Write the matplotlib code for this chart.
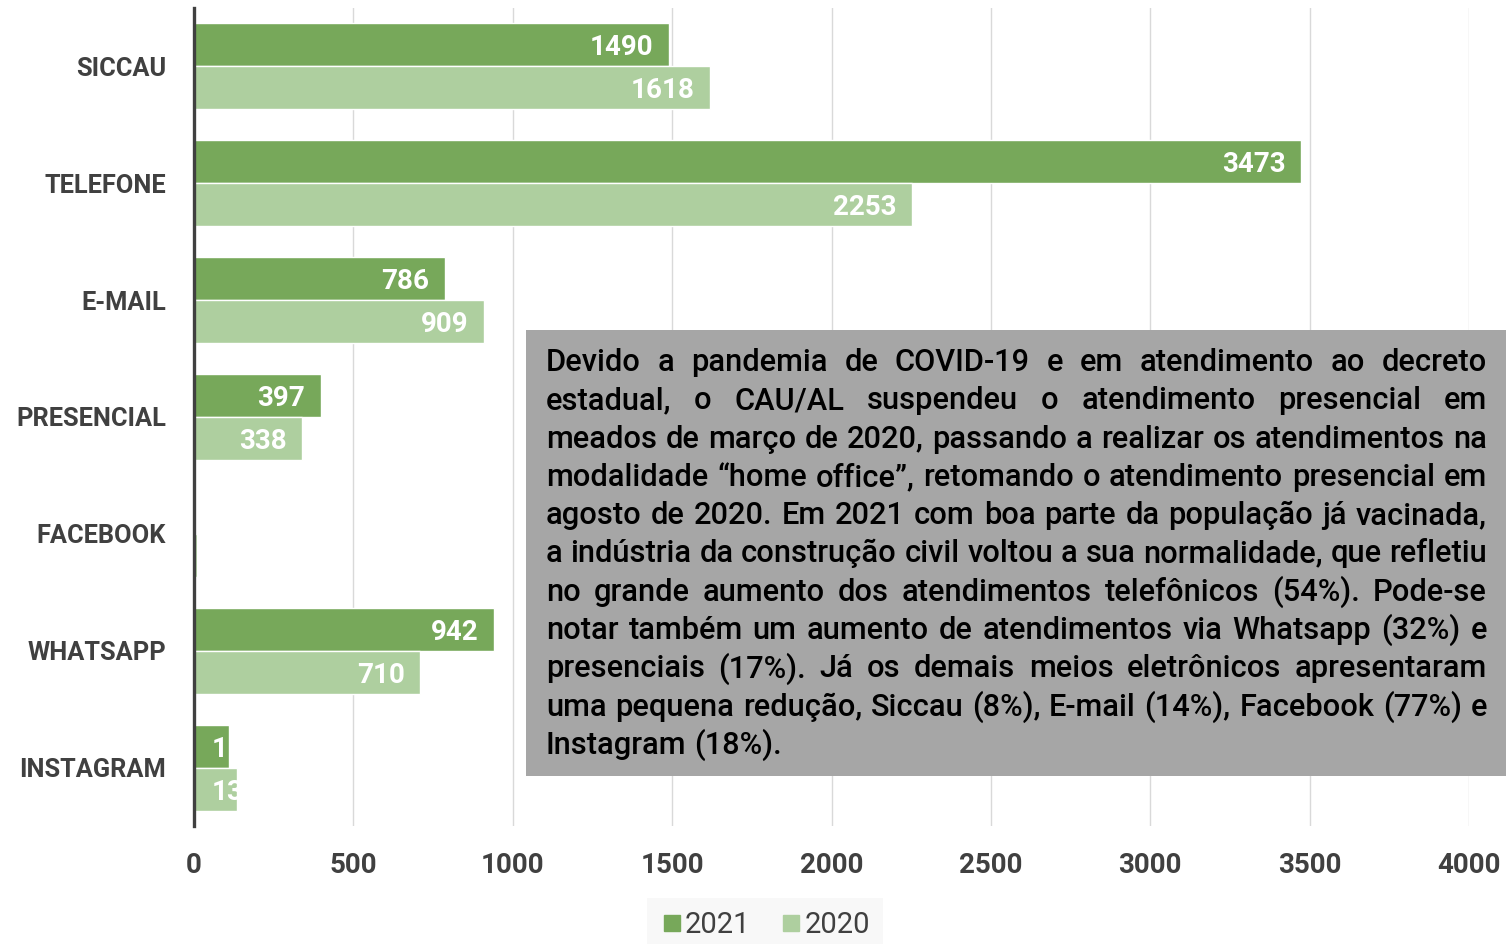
import os
import matplotlib
matplotlib.use('Agg')
import matplotlib.pyplot as plt
from matplotlib import font_manager as fm
from matplotlib.patches import Rectangle
from matplotlib.lines import Line2D

categories = ['SICCAU', 'TELEFONE', 'E-MAIL', 'PRESENCIAL', 'FACEBOOK', 'WHATSAPP', 'INSTAGRAM']
values_2021 = [1490, 3473, 786, 397, 2, 942, 111]
values_2020 = [1618, 2253, 909, 338, 9, 710, 135]
series_names = ['2021', '2020']
xticks = [0, 500, 1000, 1500, 2000, 2500, 3000, 3500, 4000]

note_lines = [
    'Devido a pandemia de COVID-19 e em atendimento ao decreto',
    'estadual, o CAU/AL suspendeu o atendimento presencial em',
    'meados de março de 2020, passando a realizar os atendimentos na',
    'modalidade “home office”, retomando o atendimento presencial em',
    'agosto de 2020. Em 2021 com boa parte da população já vacinada,',
    'a indústria da construção civil voltou a sua normalidade, que refletiu',
    'no grande aumento dos atendimentos telefônicos (54%). Pode-se',
    'notar também um aumento de atendimentos via Whatsapp (32%) e',
    'presenciais (17%). Já os demais meios eletrônicos apresentaram',
    'uma pequena redução, Siccau (8%), E-mail (14%), Facebook (77%) e',
    'Instagram (18%).',
]


def font_file(**kw):
    try:
        return os.path.basename(fm.findfont(fm.FontProperties(**kw), fallback_to_default=False))
    except Exception:
        return ''


if 'Medium' in font_file(family='Roboto', weight='medium'):
    box_font = dict(family='Roboto', fontweight='medium')
    LAB = 'Roboto'
else:
    box_font = dict(family='Liberation Sans', fontweight='bold')
    LAB = 'Liberation Sans'

num_fs = 20

c2021 = '#77A85A'
c2020 = '#AECF9F'
dark = '#404040'

W, H = 1506, 944
fig = plt.figure(figsize=(W / 100, H / 100), dpi=100)
ax = fig.add_axes([194 / W, 1 - 826 / H, (1469 - 194) / W, (826 - 8) / H])
renderer = fig.canvas.get_renderer()

# category label size: widest label should span about 149 px as in the original
probes = [fig.text(0, 0, c, fontsize=10, family=LAB, fontweight='bold') for c in categories]
widest = max(p.get_window_extent(renderer).width for p in probes)
for p in probes:
    p.remove()
ycat_fs = min(22, 10 * 149 / widest)

y = list(range(len(categories)))
bh = 0.368
bars21 = ax.barh([i - bh / 2 for i in y], values_2021, height=bh, color=c2021,
                 edgecolor='white', linewidth=1, zorder=3)
bars20 = ax.barh([i + bh / 2 for i in y], values_2020, height=bh, color=c2020,
                 edgecolor='white', linewidth=1, zorder=3)

ax.set_xlim(0, 4000)
ax.set_ylim(len(categories) - 0.5, -0.5)

# data labels inside end, clipped to the bar
for bars, vals in [(bars21, values_2021), (bars20, values_2020)]:
    for b, v in zip(bars, vals):
        if v < 20:
            continue
        t = ax.annotate(str(v), (v, b.get_y() + b.get_height() / 2),
                        xytext=(-11, 0), textcoords='offset points',
                        ha='right', va='center_baseline', color='white',
                        fontsize=num_fs, fontweight='bold', family=LAB, zorder=4)
        tw = t.get_window_extent(renderer).width
        bw = b.get_window_extent(renderer).width
        if tw + 30 > bw:
            t.xy = (0, t.xy[1])
            t.set_position((13, 0))
            t.set_ha('left')
        t.set_clip_path(b)

ax.set_xticks(xticks)
ax.set_yticks(y)
ax.set_yticklabels(categories)
ax.tick_params(axis='both', length=0, labelcolor=dark)
ax.tick_params(axis='x', pad=19)
ax.tick_params(axis='y', pad=20)
for lab in ax.get_yticklabels():
    lab.set_fontsize(ycat_fs)
    lab.set_family(LAB)
    lab.set_fontweight('bold')
for lab in ax.get_xticklabels():
    lab.set_fontsize(num_fs)
    lab.set_family(LAB)
    lab.set_fontweight('bold')
ax.grid(axis='x', color='#D9D9D9', linewidth=1, zorder=0)
ax.set_axisbelow(True)
for s in ['top', 'right', 'bottom']:
    ax.spines[s].set_visible(False)
ax.spines['left'].set_color(dark)
ax.spines['left'].set_linewidth(2.4)
ax.spines['left'].set_zorder(5)

handles = [Line2D([], [], marker='s', linestyle='', color=c, markersize=11) for c in (c2021, c2020)]
leg = fig.legend(handles, series_names, loc='center', bbox_to_anchor=(765 / W, 1 - 925 / H),
                 ncol=2, frameon=True, prop=fm.FontProperties(family=LAB, size=num_fs + 1),
                 handletextpad=0.05, columnspacing=1.0, borderpad=0.45, handlelength=0.8,
                 borderaxespad=0)
leg.get_frame().set_facecolor('#F7F7F7')
leg.get_frame().set_edgecolor('none')
leg.get_frame().set_boxstyle('square', pad=0)
for t in leg.get_texts():
    t.set_color(dark)

# annotation box
fig.add_artist(Rectangle((526 / W, 1 - 776 / H), (W - 526) / W, (776 - 330) / H,
                         transform=fig.transFigure, facecolor='#A6A6A6',
                         edgecolor='none', zorder=10))

# justified paragraph, font size chosen so the longest line fits with normal spacing
x0, x1 = 546, 1487
base0, step = 371, 38.3
probes = [fig.text(0, 0, ln, fontsize=10, **box_font) for ln in note_lines]
longest = max(p.get_window_extent(renderer).width for p in probes)
for p in probes:
    p.remove()
box_fs = 10 * (x1 - x0) / longest * 0.995

probe = fig.text(0, 0, 'a a', fontsize=box_fs, **box_font)
probe2 = fig.text(0, 0, 'aa', fontsize=box_fs, **box_font)
space = probe.get_window_extent(renderer).width - probe2.get_window_extent(renderer).width
probe.remove()
probe2.remove()
for k, line in enumerate(note_lines):
    yb = 1 - (base0 + k * step) / H
    words = line.split(' ')
    texts = [fig.text(0, yb, w, fontsize=box_fs, color='black', ha='left',
                      va='baseline', zorder=11, **box_font) for w in words]
    widths = [t.get_window_extent(renderer).width for t in texts]
    if k < len(note_lines) - 1 and len(words) > 1:
        gap = (x1 - x0 - sum(widths)) / (len(words) - 1)
    else:
        gap = space
    x = x0
    for t, w in zip(texts, widths):
        t.set_x(x / W)
        x += w + gap

fig.savefig('out.png', dpi=100)
